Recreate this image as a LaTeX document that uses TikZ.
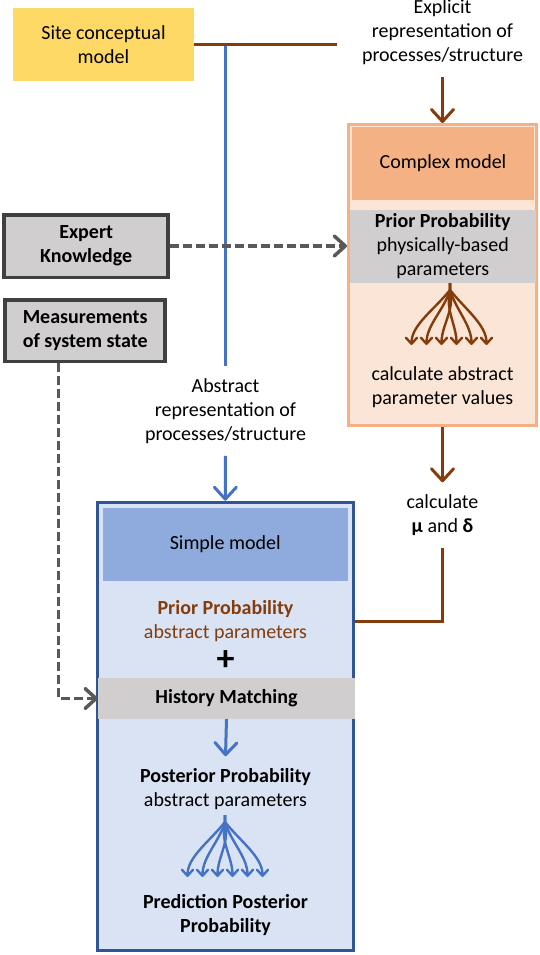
\documentclass[tikz,border=0pt]{standalone}
\usepackage{fontspec}
\setmainfont{Carlito}
\usetikzlibrary{arrows.meta}

\definecolor{siteyellow}{HTML}{FFD966}
\definecolor{rustbrown}{HTML}{843C0C}
\definecolor{linkblue}{HTML}{4472C4}
\definecolor{frameblue}{HTML}{2F5597}
\definecolor{paleblue}{HTML}{DAE3F3}
\definecolor{midblue}{HTML}{8FAADC}
\definecolor{palepeach}{HTML}{FBE5D6}
\definecolor{peach}{HTML}{F4B183}
\definecolor{bandgrey}{HTML}{D0CECE}
\definecolor{boxgrey}{HTML}{404040}
\definecolor{dashgrey}{HTML}{595959}

\begin{document}
\begin{tikzpicture}[x=1pt, y=-1pt,
        every node/.style={font=\fontsize{20}{24}\selectfont, align=center},
        lbl/.style={inner xsep=2pt, inner ysep=12pt},
        band/.style={inner sep=0pt, minimum height=73pt},
        srcbox/.style={draw=boxgrey, line width=3.5pt, fill=bandgrey, inner sep=0pt, font=\fontsize{20}{24}\selectfont\bfseries},
        brownline/.style={rustbrown, line width=3pt},
        blueline/.style={linkblue, line width=3pt},
        brownarrow/.style={brownline, -{Straight Barb[length=12pt,width=22pt,round]}},
        bluearrow/.style={blueline, -{Straight Barb[length=12pt,width=22pt,round]}},
        dasharrow/.style={dashgrey, line width=3.5pt, dash pattern=on 9pt off 4pt, -{Straight Barb[length=11pt,width=20pt,round]}},
        fanline/.style={line width=2.4pt, -{Straight Barb[length=6pt,width=11pt,round]}}]
        \useasboundingbox[fill=white] (0, 0) rectangle (540, 955);
        % outer frames
        \node[draw=peach, line width=3pt, fill=palepeach, inner sep=0pt, minimum width=188pt, minimum height=301pt] (cplx) at (442.5, 275) {};
        \node[draw=frameblue, line width=3pt, fill=paleblue, inner sep=0pt, minimum width=256.5pt, minimum height=448.3pt] (simple) at (225.25, 726.35) {};
        % left column
        \node[fill=siteyellow, band, minimum width=181pt] (site) at (103.5, 44.5) {Site conceptual\\model};
        \node[srcbox, minimum width=164pt, minimum height=62.5pt] (expert) at (86.2, 246) {Expert\\Knowledge};
        \node[srcbox, minimum width=160pt, minimum height=61.5pt] (meas) at (85.2, 330.5) {Measurements\\of system state};
        % complex model
        \node[lbl] (explicit) at (442.5, 32.5) {Explicit\\representation of\\processes/structure};
        \node[fill=peach, band, minimum width=182pt] (cmodel) at (443, 163.5) {Complex model};
        \node[fill=bandgrey, band, minimum width=185.5pt] (cprior) at (442.75, 246.5) {\textbf{Prior Probability}\\physically-based\\parameters};
        \node (cabs) at (442.5, 387.5) {calculate abstract\\parameter values};
        \node[lbl] (calc) at (442.5, 515) {calculate\\\textbf{μ} and \textbf{δ}};
        % simple model
        \node[lbl] (abstract) at (225.5, 411) {Abstract\\representation of\\processes/structure};
        \node[fill=midblue, band, minimum width=244.8pt] (smodel) at (225.2, 544.5) {Simple model};
        \node[text=rustbrown] (sprior) at (225.5, 621.5) {\textbf{Prior Probability}\\abstract parameters};
        \node[font=\fontsize{36}{36}\selectfont\bfseries] (plus) at (225.5, 661) {+};
        \node[fill=bandgrey, inner sep=0pt, minimum width=257pt, minimum height=41pt, font=\fontsize{20}{24}\selectfont\bfseries] (hist) at (226.5, 698.5) {History Matching};
        \node[lbl] (post) at (225.5, 789) {\textbf{Posterior Probability}\\abstract parameters};
        \node[font=\fontsize{20}{24}\selectfont\bfseries] (pred) at (225.5, 915) {Prediction Posterior\\Probability};
        \coordinate (siteend) at (337, 44.5);
        \coordinate (junc) at (225.5, 44.5);
        \coordinate (cfan) at (450, 283);
        \coordinate (sfan) at (225, 815);
        % connectors
        \draw[brownline] (site.east) -- (siteend);
        \draw[blueline] ([yshift=-1.5pt]junc) -- (abstract.north);
        \draw[bluearrow] (abstract.south) -- (simple.north);
        \draw[brownarrow] (explicit.south) -- (cplx.north);
        \draw[brownarrow] (cplx.south) -- (calc.north);
        \draw[brownline] (calc.south) |- (simple.east |- sprior);
        \draw[bluearrow] (hist.south) -- (post.north);
        \draw[dasharrow] (expert.east) -- (expert.east -| cplx.west);
        \draw[dasharrow] ([xshift=-26.6pt]meas.south) |- (hist.west);
        % fans
        \foreach \tx/\cx in {-37.5/-16, -22.5/-6, -7.5/5, 7.5/-5, 22.5/6, 37.5/16} {
            \draw[fanline, rustbrown] (cfan) -- ++(0, 7) .. controls +(\cx, 20) and +(0, -20) .. +(\tx - 1, 55);
            \draw[fanline, linkblue] (sfan) -- ++(0, 7) .. controls +(\cx, 20) and +(0, -20) .. +(\tx, 55);
        }
    \end{tikzpicture}
\end{document}
